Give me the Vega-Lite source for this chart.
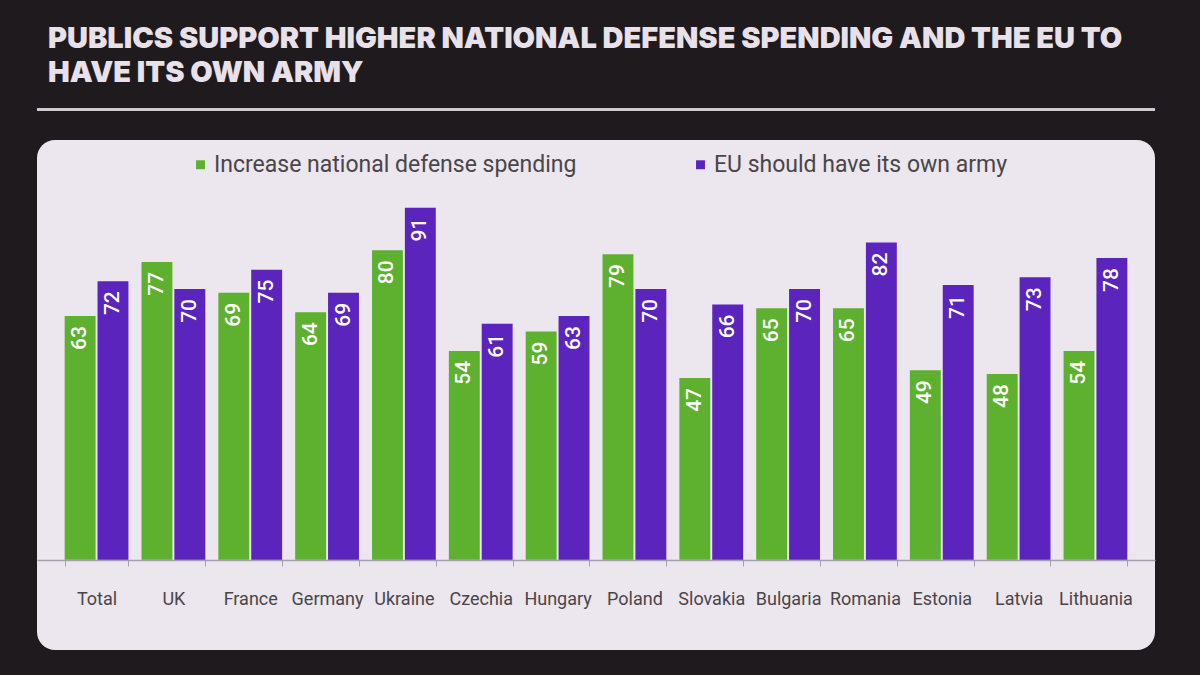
{
  "$schema": "https://vega.github.io/schema/vega-lite/v6.json",
  "width": 1118,
  "height": 510,
  "autosize": {"type": "none"},
  "padding": {"left": 37, "top": 140, "right": 45, "bottom": 25},
  "background": "#1f1a1e",
  "title": {
    "text": ["PUBLICS SUPPORT HIGHER NATIONAL DEFENSE SPENDING AND THE EU TO", "HAVE ITS OWN ARMY"],
    "anchor": "start",
    "frame": "group",
    "dx": 11,
    "offset": 21,
    "font": "Inter",
    "fontSize": 29,
    "fontWeight": 900,
    "color": "#e9e1ea",
    "lineHeight": 34
  },
  "config": {
    "view": {"fill": "#ece6ee", "cornerRadius": 18, "stroke": null}
  },
  "data": {
    "values": [
      {"country": "Total", "measure": "Increase national defense spending", "value": 63},
      {"country": "Total", "measure": "EU should have its own army", "value": 72},
      {"country": "UK", "measure": "Increase national defense spending", "value": 77},
      {"country": "UK", "measure": "EU should have its own army", "value": 70},
      {"country": "France", "measure": "Increase national defense spending", "value": 69},
      {"country": "France", "measure": "EU should have its own army", "value": 75},
      {"country": "Germany", "measure": "Increase national defense spending", "value": 64},
      {"country": "Germany", "measure": "EU should have its own army", "value": 69},
      {"country": "Ukraine", "measure": "Increase national defense spending", "value": 80},
      {"country": "Ukraine", "measure": "EU should have its own army", "value": 91},
      {"country": "Czechia", "measure": "Increase national defense spending", "value": 54},
      {"country": "Czechia", "measure": "EU should have its own army", "value": 61},
      {"country": "Hungary", "measure": "Increase national defense spending", "value": 59},
      {"country": "Hungary", "measure": "EU should have its own army", "value": 63},
      {"country": "Poland", "measure": "Increase national defense spending", "value": 79},
      {"country": "Poland", "measure": "EU should have its own army", "value": 70},
      {"country": "Slovakia", "measure": "Increase national defense spending", "value": 47},
      {"country": "Slovakia", "measure": "EU should have its own army", "value": 66},
      {"country": "Bulgaria", "measure": "Increase national defense spending", "value": 65},
      {"country": "Bulgaria", "measure": "EU should have its own army", "value": 70},
      {"country": "Romania", "measure": "Increase national defense spending", "value": 65},
      {"country": "Romania", "measure": "EU should have its own army", "value": 82},
      {"country": "Estonia", "measure": "Increase national defense spending", "value": 49},
      {"country": "Estonia", "measure": "EU should have its own army", "value": 71},
      {"country": "Latvia", "measure": "Increase national defense spending", "value": 48},
      {"country": "Latvia", "measure": "EU should have its own army", "value": 73},
      {"country": "Lithuania", "measure": "Increase national defense spending", "value": 54},
      {"country": "Lithuania", "measure": "EU should have its own army", "value": 78}
    ]
  },
  "layer": [
    {
      "mark": {"type": "rule", "color": "#cfcad2", "strokeWidth": 2},
      "encoding": {
        "y": {"datum": 116.3, "type": "quantitative", "scale": {"domain": [-23.3, 108.5], "nice": false}, "axis": null}
      }
    },
    {
      "encoding": {
        "x": {
          "field": "country",
          "type": "nominal",
          "sort": null,
          "scale": {"paddingInner": 0.17, "paddingOuter": 0.36},
          "axis": {
            "title": null,
            "labelAngle": 0,
            "offset": -90,
            "domainColor": "#a89fae",
            "domainWidth": 1.5,
            "tickColor": "#a89fae",
            "tickBand": "extent",
            "tickSize": 6,
            "labelFont": "Roboto",
            "labelFontSize": 18,
            "labelColor": "#4a4548",
            "labelPadding": 24
          }
        },
        "xOffset": {
          "field": "measure",
          "type": "nominal",
          "sort": ["Increase national defense spending", "EU should have its own army"],
          "scale": {"paddingInner": 0.06}
        },
        "y": {
          "field": "value",
          "type": "quantitative",
          "scale": {"domain": [-23.3, 108.5], "nice": false},
          "axis": null
        }
      },
      "layer": [
        {
          "mark": {"type": "bar"},
          "encoding": {
            "color": {
              "field": "measure",
              "type": "nominal",
              "scale": {
                "domain": ["Increase national defense spending", "EU should have its own army"],
                "range": ["#5db12f", "#5a24bd"]
              },
              "legend": {
                "title": null,
                "orient": "none",
                "legendX": 152,
                "legendY": 13,
                "direction": "horizontal",
                "symbolType": "square",
                "symbolSize": 80,
                "symbolStrokeWidth": 0,
                "labelFont": "Roboto",
                "labelFontSize": 23,
                "labelColor": "#4a4548",
                "labelLimit": 500,
                "columnPadding": 112,
                "labelOffset": 2
              }
            }
          }
        },
        {
          "mark": {
            "type": "text",
            "angle": 270,
            "align": "right",
            "baseline": "middle",
            "dx": -10,
            "color": "#ffffff",
            "font": "Roboto",
            "fontSize": 21,
            "fontWeight": 500
          },
          "encoding": {
            "text": {"field": "value", "type": "quantitative"}
          }
        }
      ]
    }
  ]
}
